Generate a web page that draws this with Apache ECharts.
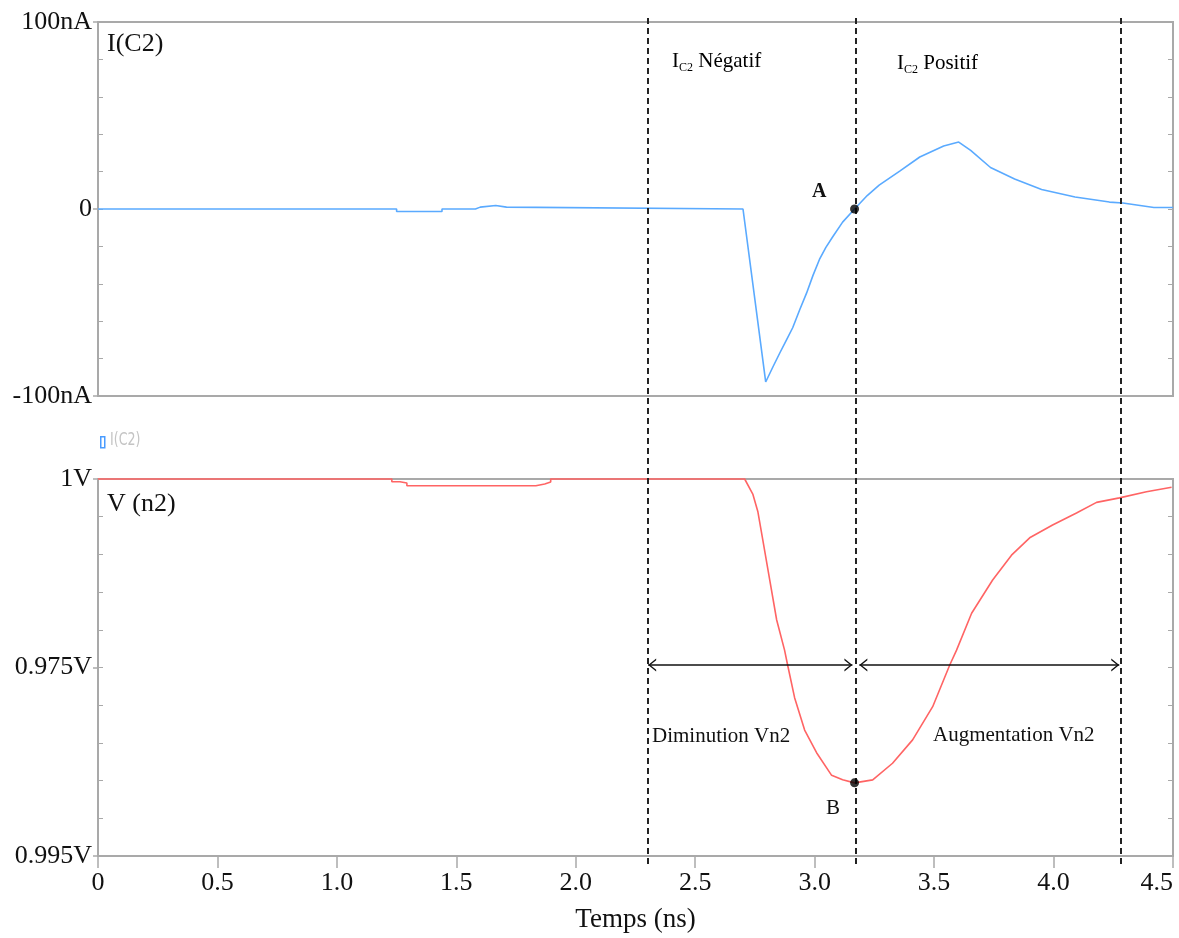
<!DOCTYPE html>
<html>
<head>
<meta charset="utf-8">
<script src="https://cdn.jsdelivr.net/npm/echarts@6/dist/echarts.min.js"></script>
<style>
html,body{margin:0;padding:0;background:#fff;}
#chart{width:1179px;height:938px;}
</style>
</head>
<body>
<div id="chart"></div>
<script>
// ---- Data (time in ns) ----
const timeI = [0, 1.25, 1.25, 1.44, 1.44, 1.58, 1.58, 1.60, 1.60, 1.665, 1.665, 1.71, 1.71, 2.70, 2.795, 2.825, 2.854, 2.88, 2.908, 2.937, 2.966, 2.993, 3.02, 3.047, 3.075, 3.117, 3.167, 3.22, 3.27, 3.356, 3.44, 3.54, 3.603, 3.653, 3.736, 3.837, 3.95, 4.09, 4.234, 4.29, 4.42, 4.5];
const valI  = [0, 0, -1.3, -1.3, 0, 0, 1, 1, 1.9, 1.9, 1, 1, 0, 0, -92.5, -84.5, -77, -70.5, -63.5, -54, -45, -35.5, -27, -20.5, -15, -7, 0, 7.2, 12.8, 20.3, 27.8, 33.7, 35.8, 31.3, 22.2, 16, 10.4, 6.4, 3.7, 3.2, 0.8, 0.8];

const timeV = [0, 1.23, 1.23, 1.264, 1.264, 1.293, 1.293, 1.833, 1.833, 1.87, 1.87, 1.895, 1.895, 2.707, 2.741, 2.762, 2.783, 2.812, 2.841, 2.874, 2.887, 2.916, 2.958, 3.008, 3.071, 3.117, 3.167, 3.243, 3.326, 3.41, 3.494, 3.565, 3.594, 3.657, 3.745, 3.824, 3.90, 3.996, 4.096, 4.18, 4.276, 4.389, 4.494];
const valV  = [1.0, 1.0, 0.999964, 0.999964, 0.999947, 0.999947, 0.999911, 0.999911, 0.999934, 0.999934, 0.99996, 0.99996, 1.0, 1.0, 0.99980, 0.99957, 0.99919, 0.99866, 0.99813, 0.99773, 0.99753, 0.99710, 0.99667, 0.99637, 0.99607, 0.99601, 0.99597, 0.99601, 0.99623, 0.99654, 0.99698, 0.99753, 0.99773, 0.99822, 0.99866, 0.99899, 0.99922, 0.99939, 0.99955, 0.99969, 0.99975, 0.99983, 0.99989];

const xTickLabels = ['0', '0.5', '1.0', '1.5', '2.0', '2.5', '3.0', '3.5', '4.0', '4.5'];
const iTickValues = [-100, 0, 100];
const iTickLabels = ['-100nA', '0', '100nA'];
const vTickValues = [0.995, 0.9975, 1.0];
const vTickLabels = ['0.995V', '0.975V', '1V'];

const pointA = [3.167, 0];
const pointB = [3.167, 0.99597];
const dashTimes = [2.3, 3.167, 4.284];
const arrowLevel = 0.997533;
const arrowSpans = [[2.303, 3.158], [3.187, 4.275]];

// ---- Styling ----
const SERIF = 'Liberation Serif';
const GREY = '#a9a9a9';
// open chevron whose tip sits at the symbol centre (a tiny point extends the box)
const chev = 'path://M5,10 L10,20 L8.7,20 L5,12.6 L1.3,20 L0,20 Z M5,0 L5.01,0 L5,0.01 Z';

function pickLabel(vals, labels, v) {
  let best = 0;
  for (let i = 1; i < vals.length; i++) if (Math.abs(vals[i] - v) < Math.abs(vals[best] - v)) best = i;
  return Math.abs(vals[best] - v) < 1e-6 * Math.max(1, Math.abs(v)) + 1e-9 ? labels[best] : '';
}

const chart = echarts.init(document.getElementById('chart'), null, {renderer: 'canvas'});

const innerY = (grid, min, max, interval, pos) => ({
  gridIndex: grid, type: 'value', min: min, max: max, interval: interval, position: pos,
  axisLine: {show: false}, axisLabel: {show: false}, splitLine: {show: false},
  axisTick: {show: true, inside: true, length: 5, lineStyle: {color: GREY, width: 1}}
});

const option = {
  animation: false,
  backgroundColor: '#fff',
  grid: [
    {left: 98, top: 22, width: 1075, height: 374, show: true, borderColor: GREY, borderWidth: 2, outerBoundsMode: 'none', containLabel: false},
    {left: 98, top: 479, width: 1075, height: 377, show: true, borderColor: GREY, borderWidth: 2, outerBoundsMode: 'none', containLabel: false},
    {left: 98, top: 15, width: 1075, height: 849, show: false, outerBoundsMode: 'none', containLabel: false}
  ],
  xAxis: [
    {gridIndex: 0, type: 'value', min: 0, max: 4.5, interval: 0.5,
     axisLine: {show: false}, axisTick: {show: false}, axisLabel: {show: false}, splitLine: {show: false}},
    {gridIndex: 1, type: 'value', min: 0, max: 4.5, interval: 0.5,
     axisLine: {show: true, lineStyle: {color: GREY, width: 2}},
     axisTick: {show: true, length: 12, lineStyle: {color: GREY, width: 1.5}},
     axisLabel: {margin: 14, fontFamily: SERIF, fontSize: 26, color: '#111', alignMaxLabel: 'right',
                 formatter: v => xTickLabels[Math.round(v / 0.5)]},
     splitLine: {show: false},
     name: 'Temps (ns)', nameLocation: 'middle', nameGap: 50,
     nameTextStyle: {fontFamily: SERIF, fontSize: 27, color: '#111'}},
    {gridIndex: 2, type: 'value', min: 0, max: 4.5, show: false}
  ],
  yAxis: [
    {gridIndex: 0, type: 'value', min: -100, max: 100, interval: 100, position: 'left',
     axisLine: {show: false}, splitLine: {show: false},
     axisTick: {show: true, length: 5, lineStyle: {color: GREY, width: 1.5}},
     axisLabel: {margin: 6, fontFamily: SERIF, fontSize: 26, color: '#111',
                 formatter: v => pickLabel(iTickValues, iTickLabels, v)}},
    innerY(0, -100, 100, 20, 'left'),
    innerY(0, -100, 100, 20, 'right'),
    {gridIndex: 1, type: 'value', min: 0.995, max: 1.0, interval: 0.0025, position: 'left',
     axisLine: {show: false}, splitLine: {show: false},
     axisTick: {show: true, length: 5, lineStyle: {color: GREY, width: 1.5}},
     axisLabel: {margin: 6, fontFamily: SERIF, fontSize: 26, color: '#111',
                 formatter: v => pickLabel(vTickValues, vTickLabels, v)}},
    innerY(1, 0.995, 1.0, 0.0005, 'left'),
    innerY(1, 0.995, 1.0, 0.0005, 'right'),
    {gridIndex: 2, type: 'value', min: 0, max: 1, show: false}
  ],
  series: [
    {type: 'line', xAxisIndex: 0, yAxisIndex: 0, symbol: 'none', clip: false,
     lineStyle: {color: '#5aaaff', width: 1.6},
     data: timeI.map((t, i) => [t, valI[i]])},
    {type: 'line', xAxisIndex: 1, yAxisIndex: 3, symbol: 'none', clip: false,
     lineStyle: {color: '#ff6464', width: 1.6},
     data: timeV.map((t, i) => [t, valV[i]]),
     markLine: {
       silent: true, symbol: [chev, chev], symbolSize: [13, 16],
       label: {show: false},
       lineStyle: {color: '#111', width: 1.5, type: 'solid'},
       data: arrowSpans.map(s => [{coord: [s[0], arrowLevel]}, {coord: [s[1], arrowLevel]}])
     }},
    {type: 'line', xAxisIndex: 2, yAxisIndex: 6, data: [], symbol: 'none',
     markLine: {
       silent: true, symbol: ['none', 'none'], label: {show: false},
       lineStyle: {color: '#222', width: 2, type: [6, 4]},
       data: dashTimes.map(x => ({xAxis: x}))
     }},
    {type: 'scatter', xAxisIndex: 0, yAxisIndex: 0, symbolSize: 9, itemStyle: {color: '#000'},
     data: [pointA], z: 5},
    {type: 'scatter', xAxisIndex: 1, yAxisIndex: 3, symbolSize: 9, itemStyle: {color: '#000'},
     data: [pointB], z: 5}
  ],
  graphic: [
    {type: 'text', left: 107, top: 31, style: {text: 'I(C2)', font: '26px "Liberation Serif"', fill: '#111'}},
    {type: 'text', left: 107, top: 491, style: {text: 'V (n2)', font: '26px "Liberation Serif"', fill: '#111'}},
    {type: 'text', left: 672, top: 51, style: {
      text: '{m|I}{s|C2}{m| Négatif}',
      rich: {m: {fontFamily: SERIF, fontSize: 21, lineHeight: 24, color: '#111'},
             s: {fontFamily: SERIF, fontSize: 12, lineHeight: 14, verticalAlign: 'bottom', color: '#111'}}}},
    {type: 'text', left: 897, top: 53, style: {
      text: '{m|I}{s|C2}{m| Positif}',
      rich: {m: {fontFamily: SERIF, fontSize: 21, lineHeight: 24, color: '#111'},
             s: {fontFamily: SERIF, fontSize: 12, lineHeight: 14, verticalAlign: 'bottom', color: '#111'}}}},
    {type: 'text', left: 812, top: 182, style: {text: 'A', font: 'bold 20px "Liberation Serif"', fill: '#111'}},
    {type: 'text', left: 826, top: 798, style: {text: 'B', font: '21px "Liberation Serif"', fill: '#111'}},
    {type: 'text', left: 652, top: 726, style: {text: 'Diminution Vn2', font: '21px "Liberation Serif"', fill: '#111'}},
    {type: 'text', left: 933, top: 725, style: {text: 'Augmentation Vn2', font: '21px "Liberation Serif"', fill: '#111'}},
    {type: 'rect', left: 100, top: 436, shape: {width: 4, height: 11}, style: {fill: '#fff', stroke: '#4a9cff', lineWidth: 1.5}},
    {type: 'text', left: 110, top: 431, scaleY: 1.3, style: {text: 'I(C2)', font: '14px "DejaVu Sans Condensed"', fill: '#c4c4c4'}}
  ]
};

chart.setOption(option);
</script>
</body>
</html>
